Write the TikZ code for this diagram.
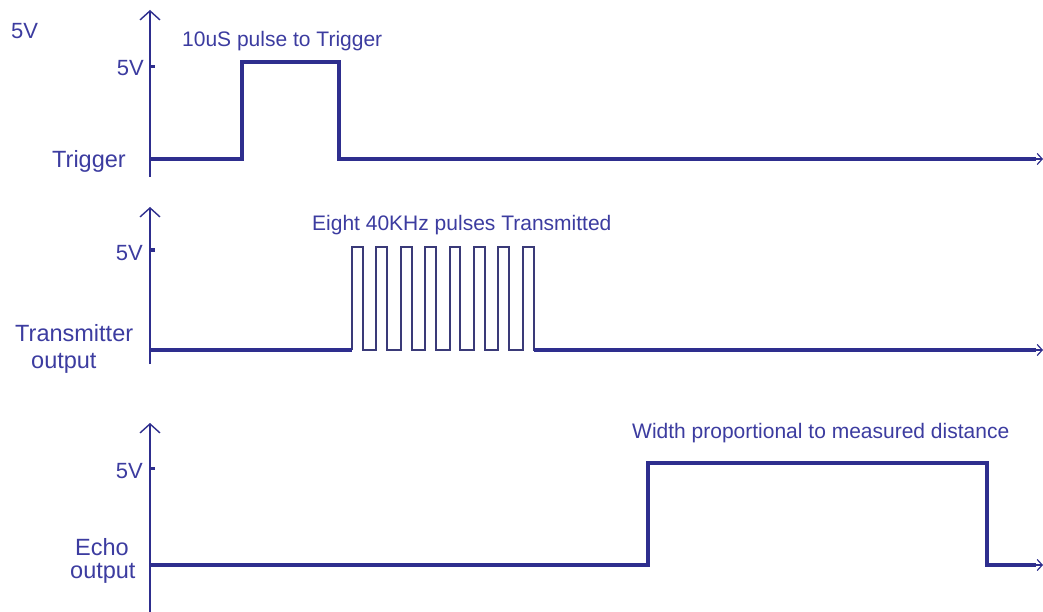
\documentclass[tikz,border=0pt]{standalone}
\usepackage{fontspec}
\setmainfont{Liberation Sans}
\usetikzlibrary{arrows.meta}
\definecolor{sig}{HTML}{2E2E8E}
\definecolor{txt}{HTML}{3C3CA0}
\definecolor{pul}{HTML}{3A3A78}
\tikzset{
  vaxis/.style={draw=sig, line width=1.6pt, -{Straight Barb[length=9pt,width=20pt,line width=1.4pt]}},
  haxis/.style={draw=sig, line width=1.4pt, -{Straight Barb[length=5pt,width=11pt,line width=1.2pt]}},
  sigline/.style={draw=sig, line width=3.6pt, line join=miter},
  pulseline/.style={draw=pul, line width=1.9pt, line join=miter},
  tickmark/.style={draw=sig, line width=3pt},
  lbl/.style={text=txt, inner sep=0pt, font=\fontsize{23.5}{26}\selectfont},
  note/.style={text=txt, inner sep=0pt, font=\fontsize{21}{24}\selectfont},
  vlbl/.style={text=txt, inner sep=0pt, font=\fontsize{22}{25}\selectfont},
}
\begin{document}
\begin{tikzpicture}[x=1pt,y=-1pt]
\useasboundingbox (0,0) rectangle (1043,612);
\fill[white] (0,0) rectangle (1043,612);

% ---------- Trigger ----------
\coordinate (t0) at (150,177);
\coordinate (t1) at (150,10);
\coordinate (th0) at (1010,159);
\coordinate (th1) at (1043,159);
\draw[vaxis] (t0) -- (t1);
\draw[haxis] (th0) -- (th1);
\draw[tickmark] (150,67) -- (155,67);
\draw[sigline] (150,159) -- (242,159) -- (242,62) -- (339,62) -- (339,159) -- (1036,159);
\node[vlbl, anchor=base west] (v5top) at (11,39) {5V};
\node[vlbl, anchor=base east] (v5a) at (144,76) {5V};
\node[lbl, anchor=base west] (trig) at (52,168) {Trigger};
\node[note, anchor=base west] (n1) at (182,47) {10uS pulse to Trigger};

% ---------- Transmitter ----------
\coordinate (x0) at (150,364);
\coordinate (x1) at (150,207);
\coordinate (xh0) at (1010,350);
\coordinate (xh1) at (1043,350);
\draw[vaxis] (x0) -- (x1);
\draw[haxis] (xh0) -- (xh1);
\draw[tickmark] (150,250) -- (155,250);
\draw[pulseline] (352,350) \foreach \k in {0,...,7}{ -- ++(0,-103) -- ++(10.8,0) -- ++(0,103) -- ++(13.6,0) };
\draw[sigline] (150,350) -- (352,350);
\draw[sigline] (533.5,350) -- (1036,350);
\node[vlbl, anchor=base east] (v5b) at (143,260) {5V};
\node[lbl, anchor=base west] (tx1) at (15,341) {Transmitter};
\node[lbl, anchor=base west] (tx2) at (31,368) {output};
\node[note, anchor=base west] (n2) at (312,230) {Eight 40KHz pulses Transmitted};

% ---------- Echo ----------
\coordinate (e0) at (150,612);
\coordinate (e1) at (150,423);
\coordinate (eh0) at (1010,565);
\coordinate (eh1) at (1043,565);
\draw[vaxis] (e0) -- (e1);
\draw[haxis] (eh0) -- (eh1);
\draw[tickmark] (150,468) -- (155,468);
\draw[sigline] (150,565) -- (648,565) -- (648,463) -- (987,463) -- (987,565) -- (1036,565);
\node[vlbl, anchor=base east] (v5c) at (143,478) {5V};
\node[lbl, anchor=base west] (ec1) at (75,555) {Echo};
\node[lbl, anchor=base west] (ec2) at (70,578) {output};
\node[note, anchor=base west] (n3) at (632,438) {Width proportional to measured distance};
\end{tikzpicture}
\end{document}
